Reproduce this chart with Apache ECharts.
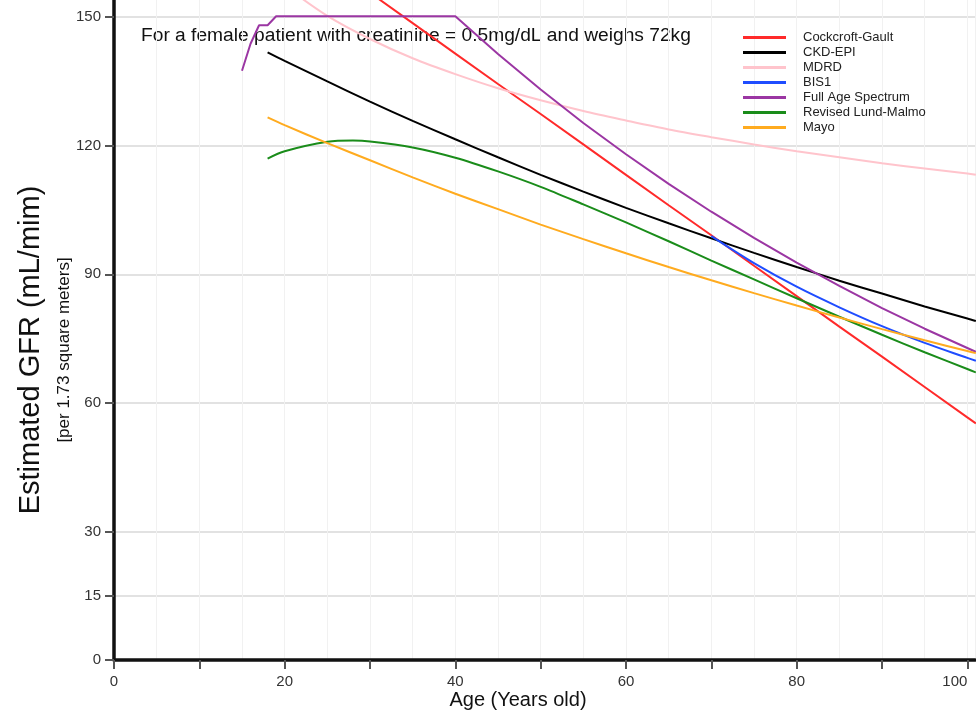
<!DOCTYPE html>
<html>
<head>
<meta charset="utf-8">
<script src="https://cdn.jsdelivr.net/npm/echarts@6/dist/echarts.min.js"></script>
<style>
html,body{margin:0;padding:0;background:#fff;}
#chart{width:976px;height:717px;}
</style>
</head>
<body>
<div id="chart"></div>
<script>
// ---- data ----
const seriesNames = ['Cockcroft-Gault','CKD-EPI','MDRD','BIS1','Full Age Spectrum','Revised Lund-Malmo','Mayo'];
const ages = [18,20,25,30,35,40,45,50,55,60,65,70,75,80,85,90,95,100,101];
const cockcroftGault = [172.6,169.8,162.7,155.7,148.6,141.5,134.4,127.4,120.3,113.2,106.1,99.1,92.0,84.9,77.8,70.8,63.7,56.6,55.2];
const ckdEpi = [141.8,139.8,135.0,130.3,125.8,121.5,117.3,113.2,109.3,105.5,101.9,98.4,95.0,91.7,88.5,85.5,82.5,79.7,79.1];
const mdrd = [160.7,157.3,150.3,144.9,140.4,136.7,133.4,130.6,128.1,125.9,123.8,122.0,120.3,118.7,117.3,115.9,114.7,113.5,113.2];
const bis1Ages = [70,75,80,85,90,95,100,101];
const bis1 = [98.9,92.6,87.1,82.3,77.9,74.0,70.5,69.8];
const fasAges = [15,16,17,18,19,40,45,50,55,60,65,70,75,80,85,90,95,100,101];
const fullAgeSpectrum = [137.5,143.8,148.1,148.1,150.2,150.2,141.4,133.1,125.3,118.0,111.1,104.6,98.5,92.7,87.3,82.1,77.3,72.8,71.9];
const lmrAges = [18,20,25,28,30,35,40,45,50,55,60,65,70,75,80,85,90,95,100,101];
const lundMalmo = [117.0,118.7,120.9,121.2,121.0,119.6,117.2,114.0,110.4,106.3,102.1,97.7,93.2,88.8,84.4,80.1,75.9,71.8,67.9,67.1];
const mayo = [126.6,124.8,120.6,116.6,112.6,108.8,105.2,101.6,98.2,94.9,91.7,88.6,85.6,82.7,79.9,77.2,74.6,72.1,71.6];

const xTicks = [0,10,20,30,40,50,60,70,80,90,100];
const xLabels = [0,20,40,60,80,100];
const yTicks = [0,15,30,60,90,120,150];

const colors = ['#ff2a2a','#000000','#ffc4cc','#1f4dff','#9b36a3','#1a8c1a','#ffab1f'];

function zip(xs, ys){ return xs.map((x,i)=>[x, ys[i]]); }

const chart = echarts.init(document.getElementById('chart'), null, {renderer:'canvas'});
const FONT = '"Liberation Sans", Arial, Helvetica, sans-serif';

const seriesData = [
  {x: ages, y: cockcroftGault, smooth: false},
  {x: ages, y: ckdEpi, smooth: 0.3},
  {x: ages, y: mdrd, smooth: 0.3},
  {x: bis1Ages, y: bis1, smooth: 0.3},
  {x: fasAges, y: fullAgeSpectrum, smooth: false},
  {x: lmrAges, y: lundMalmo, smooth: 0.3},
  {x: ages, y: mayo, smooth: 0.3}
];

const option = {
  animation: false,
  color: colors,
  grid: {left: 114, right: 1, top: 0, bottom: 57, containLabel: false},
  legend: {
    orient: 'vertical', left: 738, top: 26,
    icon: 'rect', itemWidth: 43, itemHeight: 3, itemGap: 2,
    textStyle: {fontFamily: FONT, fontSize: 13, lineHeight: 13, color: '#222', padding: [0,0,0,12]},
    data: seriesNames
  },
  xAxis: [
    {
      type: 'value', min: 0, max: 100.9, interval: 10,
      axisLine: {show: true, onZero: false, lineStyle: {color: '#111', width: 3.5}},
      axisTick: {show: true, customValues: xTicks, length: 9, lineStyle: {color: '#555', width: 2}},
      axisLabel: {customValues: xLabels, fontFamily: FONT, fontSize: 15, color: '#333', margin: 14, alignMaxLabel: 'right'},
      splitLine: {show: false}
    },
    {
      type: 'value', min: 0, max: 100.9, interval: 5, position: 'bottom',
      axisLine: {show: false}, axisTick: {show: false}, axisLabel: {show: false},
      splitLine: {show: true, lineStyle: {color: '#f1f1f1', width: 1}}
    }
  ],
  yAxis: {
    type: 'value', min: 0, max: 154,
    axisLine: {show: true, onZero: false, lineStyle: {color: '#111', width: 3.5}},
    axisTick: {show: true, customValues: yTicks, length: 9, lineStyle: {color: '#555', width: 2}},
    axisLabel: {customValues: yTicks, fontFamily: FONT, fontSize: 15, color: '#333', margin: 13},
    splitLine: {show: true, lineStyle: {color: '#e2e2e2', width: 2}}
  },
  graphic: [
    {type: 'text', x: 31, y: 350, rotation: Math.PI/2, style: {text: 'Estimated GFR (mL/mim)', fontFamily: FONT, fontSize: 29, fill: '#111', align: 'center', verticalAlign: 'middle'}},
    {type: 'text', x: 64, y: 350, rotation: Math.PI/2, style: {text: '[per 1.73 square meters]', fontFamily: FONT, fontSize: 17, fill: '#111', align: 'center', verticalAlign: 'middle'}},
    {type: 'text', x: 518, y: 700, style: {text: 'Age (Years old)', fontFamily: FONT, fontSize: 20, fill: '#111', align: 'center', verticalAlign: 'middle'}},
    {type: 'text', x: 141, y: 36, style: {text: 'For a female patient with creatinine = 0.5mg/dL and weighs 72kg', fontFamily: FONT, fontSize: 19.2, fill: '#111', align: 'left', verticalAlign: 'middle', stroke: 'none', lineWidth: 0}}
  ],
  series: seriesNames.map((name, i) => ({
    name: name, type: 'line', xAxisIndex: 0, zlevel: 1,
    data: zip(seriesData[i].x, seriesData[i].y),
    smooth: seriesData[i].smooth,
    showSymbol: false, symbol: 'none',
    clip: true,
    lineStyle: {width: 2, color: colors[i]},
    itemStyle: {color: colors[i]}
  }))
};
chart.setOption(option);
</script>
</body>
</html>
